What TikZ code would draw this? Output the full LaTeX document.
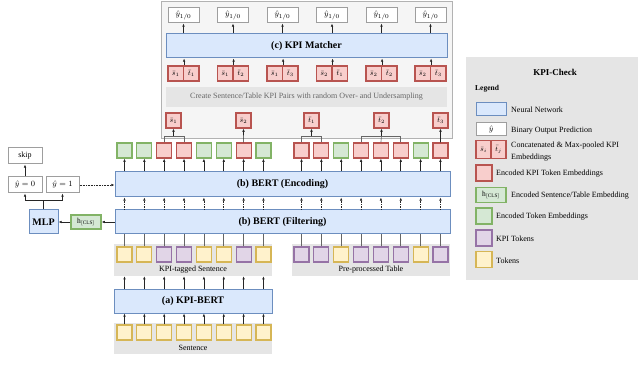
\documentclass[tikz,border=0pt]{standalone}
\usepackage{fontspec}
\setmainfont{Liberation Serif}
\usepackage{xcolor}
\usetikzlibrary{arrows.meta}

\definecolor{Yfill}{HTML}{FFF2CC}\definecolor{Ydraw}{HTML}{D6B656}
\definecolor{Pfill}{HTML}{E1D5E7}\definecolor{Pdraw}{HTML}{9673A6}
\definecolor{Rfill}{HTML}{F8CECC}\definecolor{Rdraw}{HTML}{B85450}
\definecolor{Gfill}{HTML}{D5E8D4}\definecolor{Gdraw}{HTML}{82B366}
\definecolor{Bfill}{HTML}{DAE8FC}\definecolor{Bdraw}{HTML}{6C8EBF}

\tikzset{
  tok/.style={fill=#1fill, draw=#1draw, line width=1.2pt, inner sep=0pt,
    minimum width=15pt, minimum height=15pt, font=\fontsize{7.5}{8}\selectfont},
  half/.style={tok=#1, minimum width=15.5pt},
  net/.style={fill=Bfill, draw=Bdraw, line width=1pt, inner sep=0pt,
    font=\fontsize{10}{12}\selectfont\bfseries},
  pred/.style={fill=white, draw=black!38, line width=1pt, inner sep=0pt,
    minimum height=15pt, font=\fontsize{8}{9}\selectfont},
  panel/.style={fill=black!10, draw=none, inner sep=0pt},
  lbl/.style={font=\fontsize{8}{10}\selectfont, inner sep=0pt},
  arr/.style={-{Latex[length=3.2pt,width=2.6pt]}, line width=0.6pt, draw=black!85},
  dotarr/.style={arr, densely dotted},
  feed/.style={line width=0.6pt, draw=black!60},
}

\begin{document}
\begin{tikzpicture}[x=1pt,y=-1pt]
\useasboundingbox (0,0) rectangle (640,366);

% (c) matcher part
\node[fill=black!4, draw=black!30, line width=0.8pt, minimum width=291pt, minimum height=137pt] (matchbox) at (306.5,69.5) {};
\node[panel, minimum width=281pt, minimum height=20pt, lbl, text=black!60] (pairing) at (306.5,97) {Create Sentence/Table KPI Pairs with random Over- and Undersampling};
\node[net, minimum width=281pt, minimum height=24pt] (matcher) at (306.5,46) {(c) KPI Matcher};
\foreach \c/\a/\b [count=\i] in {183.5/1/1,233/1/2,282.5/1/3,332/2/1,381.5/2/2,430.5/2/3}{
  \node[half=R] (ps\i) at (\c-7.75,73.5) {$\bar{s}_{\a}$};
  \node[half=R] (pt\i) at (\c+7.75,73.5) {$\bar{t}_{\b}$};
  \node[pred, minimum width=31pt] (yh\i) at (\c,15.5) {$\hat{y}_{1/0}$};
  \draw[arr] (ps\i.north east) -- (ps\i.north east |- matcher.south);
  \draw[arr] (yh\i.south |- matcher.north) -- (yh\i.south);
}

% pooled kpi embeddings
\node[tok=R] (s1) at (173.5,120.5) {$\bar{s}_1$};
\node[tok=R] (s2) at (243.5,120.5) {$\bar{s}_2$};
\node[tok=R] (t1) at (311.5,120.5) {$\bar{t}_1$};
\node[tok=R] (t2) at (381.5,120.5) {$\bar{t}_2$};
\node[tok=R] (t3) at (440.5,120.5) {$\bar{t}_3$};

% encoded tokens
\foreach \c [count=\i] in {G,G,R,R,G,G,R,G}
  \node[tok=\c] (el\i) at ({124.5+19.85*(\i-1)},150.5) {};
\foreach \c [count=\i] in {R,R,G,R,R,R,G,R}
  \node[tok=\c] (er\i) at ({301.5+19.85*(\i-1)},150.5) {};

% (b) BERT
\node[net, minimum width=335pt, minimum height=25pt] (enc) at (282.5,184.5) {(b) BERT (Encoding)};
\node[net, minimum width=335pt, minimum height=24pt] (filt) at (282.5,222) {(b) BERT (Filtering)};

% input token groups
\node[panel, minimum width=158pt, minimum height=32pt] (tagged) at (193,260) {};
\node[lbl] (taggedlbl) at (193,269.5) {KPI-tagged Sentence};
\node[panel, minimum width=158pt, minimum height=32pt] (table) at (371,260) {};
\node[lbl] (tablelbl) at (371,269.5) {Pre-processed Table};
\foreach \c [count=\i] in {Y,Y,P,P,Y,Y,P,Y}
  \node[tok=\c] (il\i) at ({124.5+19.85*(\i-1)},254.5) {};
\foreach \c [count=\i] in {P,P,Y,P,P,P,Y,P}
  \node[tok=\c] (ir\i) at ({301.5+19.85*(\i-1)},254.5) {};

% (a) KPI-BERT
\node[net, minimum width=158pt, minimum height=24pt] (kbert) at (193,301) {(a) KPI-BERT};
\node[panel, minimum width=158pt, minimum height=31pt] (sentence) at (193,338.5) {};
\node[lbl] (sentencelbl) at (193,347.5) {Sentence};
\foreach \i in {1,...,8}
  \node[tok=Y] (sn\i) at ({124.5+19.85*(\i-1)},332.5) {};

\foreach \i in {1,...,8}{
  \draw[arr] (el\i |- enc.north) -- (el\i.south);
  \draw[arr] (er\i |- enc.north) -- (er\i.south);
  \draw[dotarr] (el\i |- filt.north) -- (el\i |- enc.south);
  \draw[dotarr] (er\i |- filt.north) -- (er\i |- enc.south);
  \draw[feed] (il\i.north) -- (il\i |- filt.south);
  \draw[feed] (ir\i.north) -- (ir\i |- filt.south);
  \draw[arr] (sn\i |- kbert.north) -- (sn\i |- tagged.south);
  \draw[arr] (sn\i.north) -- (sn\i |- kbert.south);
}

% max-pooling joins
\path (s1.south) ++(0,7.5) coordinate (j1);
\path (t1.south) ++(0,7.5) coordinate (j2);
\path (t2.south) ++(0,7.5) coordinate (j3);
\draw[feed] (el3.north) |- (j1) -| (el4.north);
\draw[feed] (er1.north) |- (j2) -| (er2.north);
\draw[feed] (er4.north) |- (j3) -| (er6.north);
\draw[feed] (er5.north) -- (j3);
\draw[arr] (j1) -- (s1.south);
\draw[arr] (j2) -- (t1.south);
\draw[arr] (j3) -- (t2.south);
\draw[arr] (el7.north) -- (s2.south);
\draw[arr] (er8.north) -- (t3.south);

% filtering head
\node[tok=G, minimum width=30pt, minimum height=14pt] (hcls) at (86,222) {$\mathrm{h}_{[\mathrm{CLS}]}$};
\node[net, minimum width=29pt, minimum height=24pt] (mlp) at (43.5,222) {MLP};
\node[pred, minimum width=34pt, minimum height=16pt] (yzero) at (25,185) {$\hat{y}=0$};
\node[pred, minimum width=33pt, minimum height=16pt] (yone) at (62.5,185) {$\hat{y}=1$};
\node[pred, minimum width=34pt, minimum height=16pt] (skip) at (25,156) {skip};
\draw[arr] (filt.west |- hcls.east) -- (hcls.east);
\draw[arr] (hcls.west) -- (mlp.east);
\path (mlp.north) ++(0,-9) coordinate (mj);
\draw[feed, draw=black!85] (mlp.north) -- (mj);
\draw[arr] (mj) -| (yzero.south);
\draw[arr] (mj) -| (yone.south);
\draw[arr] (yzero.north) -- (skip.south);
\draw[dotarr] (yone.east) -- (enc.west |- yone.east);

% legend
\node[panel, minimum width=172pt, minimum height=223pt] (legend) at (552,168.5) {};
\node[font=\fontsize{9}{10}\selectfont\bfseries, inner sep=0pt] (title) at (555,72) {KPI-Check};
\node[font=\fontsize{7.5}{9}\selectfont\bfseries, inner sep=0pt, anchor=west] (legendlbl) at (475,89) {Legend};
\node[net, minimum width=30pt, minimum height=13pt] (lgnet) at (491,109.5) {};
\node[lbl, anchor=west] at (511,110) {Neural Network};
\node[pred, minimum width=30pt, minimum height=13pt] (lgpred) at (491,129.5) {$\hat{y}$};
\node[lbl, anchor=west] at (511,130.5) {Binary Output Prediction};
\node[half=R, minimum width=15pt, minimum height=18pt] (lgs) at (483.5,149.5) {$\bar{s}_i$};
\node[half=R, minimum width=15pt, minimum height=18pt] (lgt) at (498.5,149.5) {$\bar{t}_j$};
\node[lbl, anchor=west, align=left, font=\fontsize{8}{11.5}\selectfont] at (511,151.5) {Concatenated \& Max-pooled KPI\\Embeddings};
\node[tok=R, minimum width=16pt, minimum height=16pt] (lgred) at (484,173) {};
\node[lbl, anchor=west] at (496,174) {Encoded KPI Token Embeddings};
\node[tok=G, minimum width=30pt, minimum height=15pt] (lgcls) at (491,195) {$\mathrm{h}_{[\mathrm{CLS}]}$};
\node[lbl, anchor=west] at (511,196) {Encoded Sentence/Table Embedding};
\node[tok=G, minimum width=16pt, minimum height=16pt] (lggreen) at (484,216) {};
\node[lbl, anchor=west] at (496,217) {Encoded Token Embeddings};
\node[tok=P, minimum width=16pt, minimum height=16pt] (lgkpi) at (484,238) {};
\node[lbl, anchor=west] at (496,239) {KPI Tokens};
\node[tok=Y, minimum width=16pt, minimum height=16pt] (lgtok) at (484,259.5) {};
\node[lbl, anchor=west] at (496,260.5) {Tokens};
\end{tikzpicture}
\end{document}
